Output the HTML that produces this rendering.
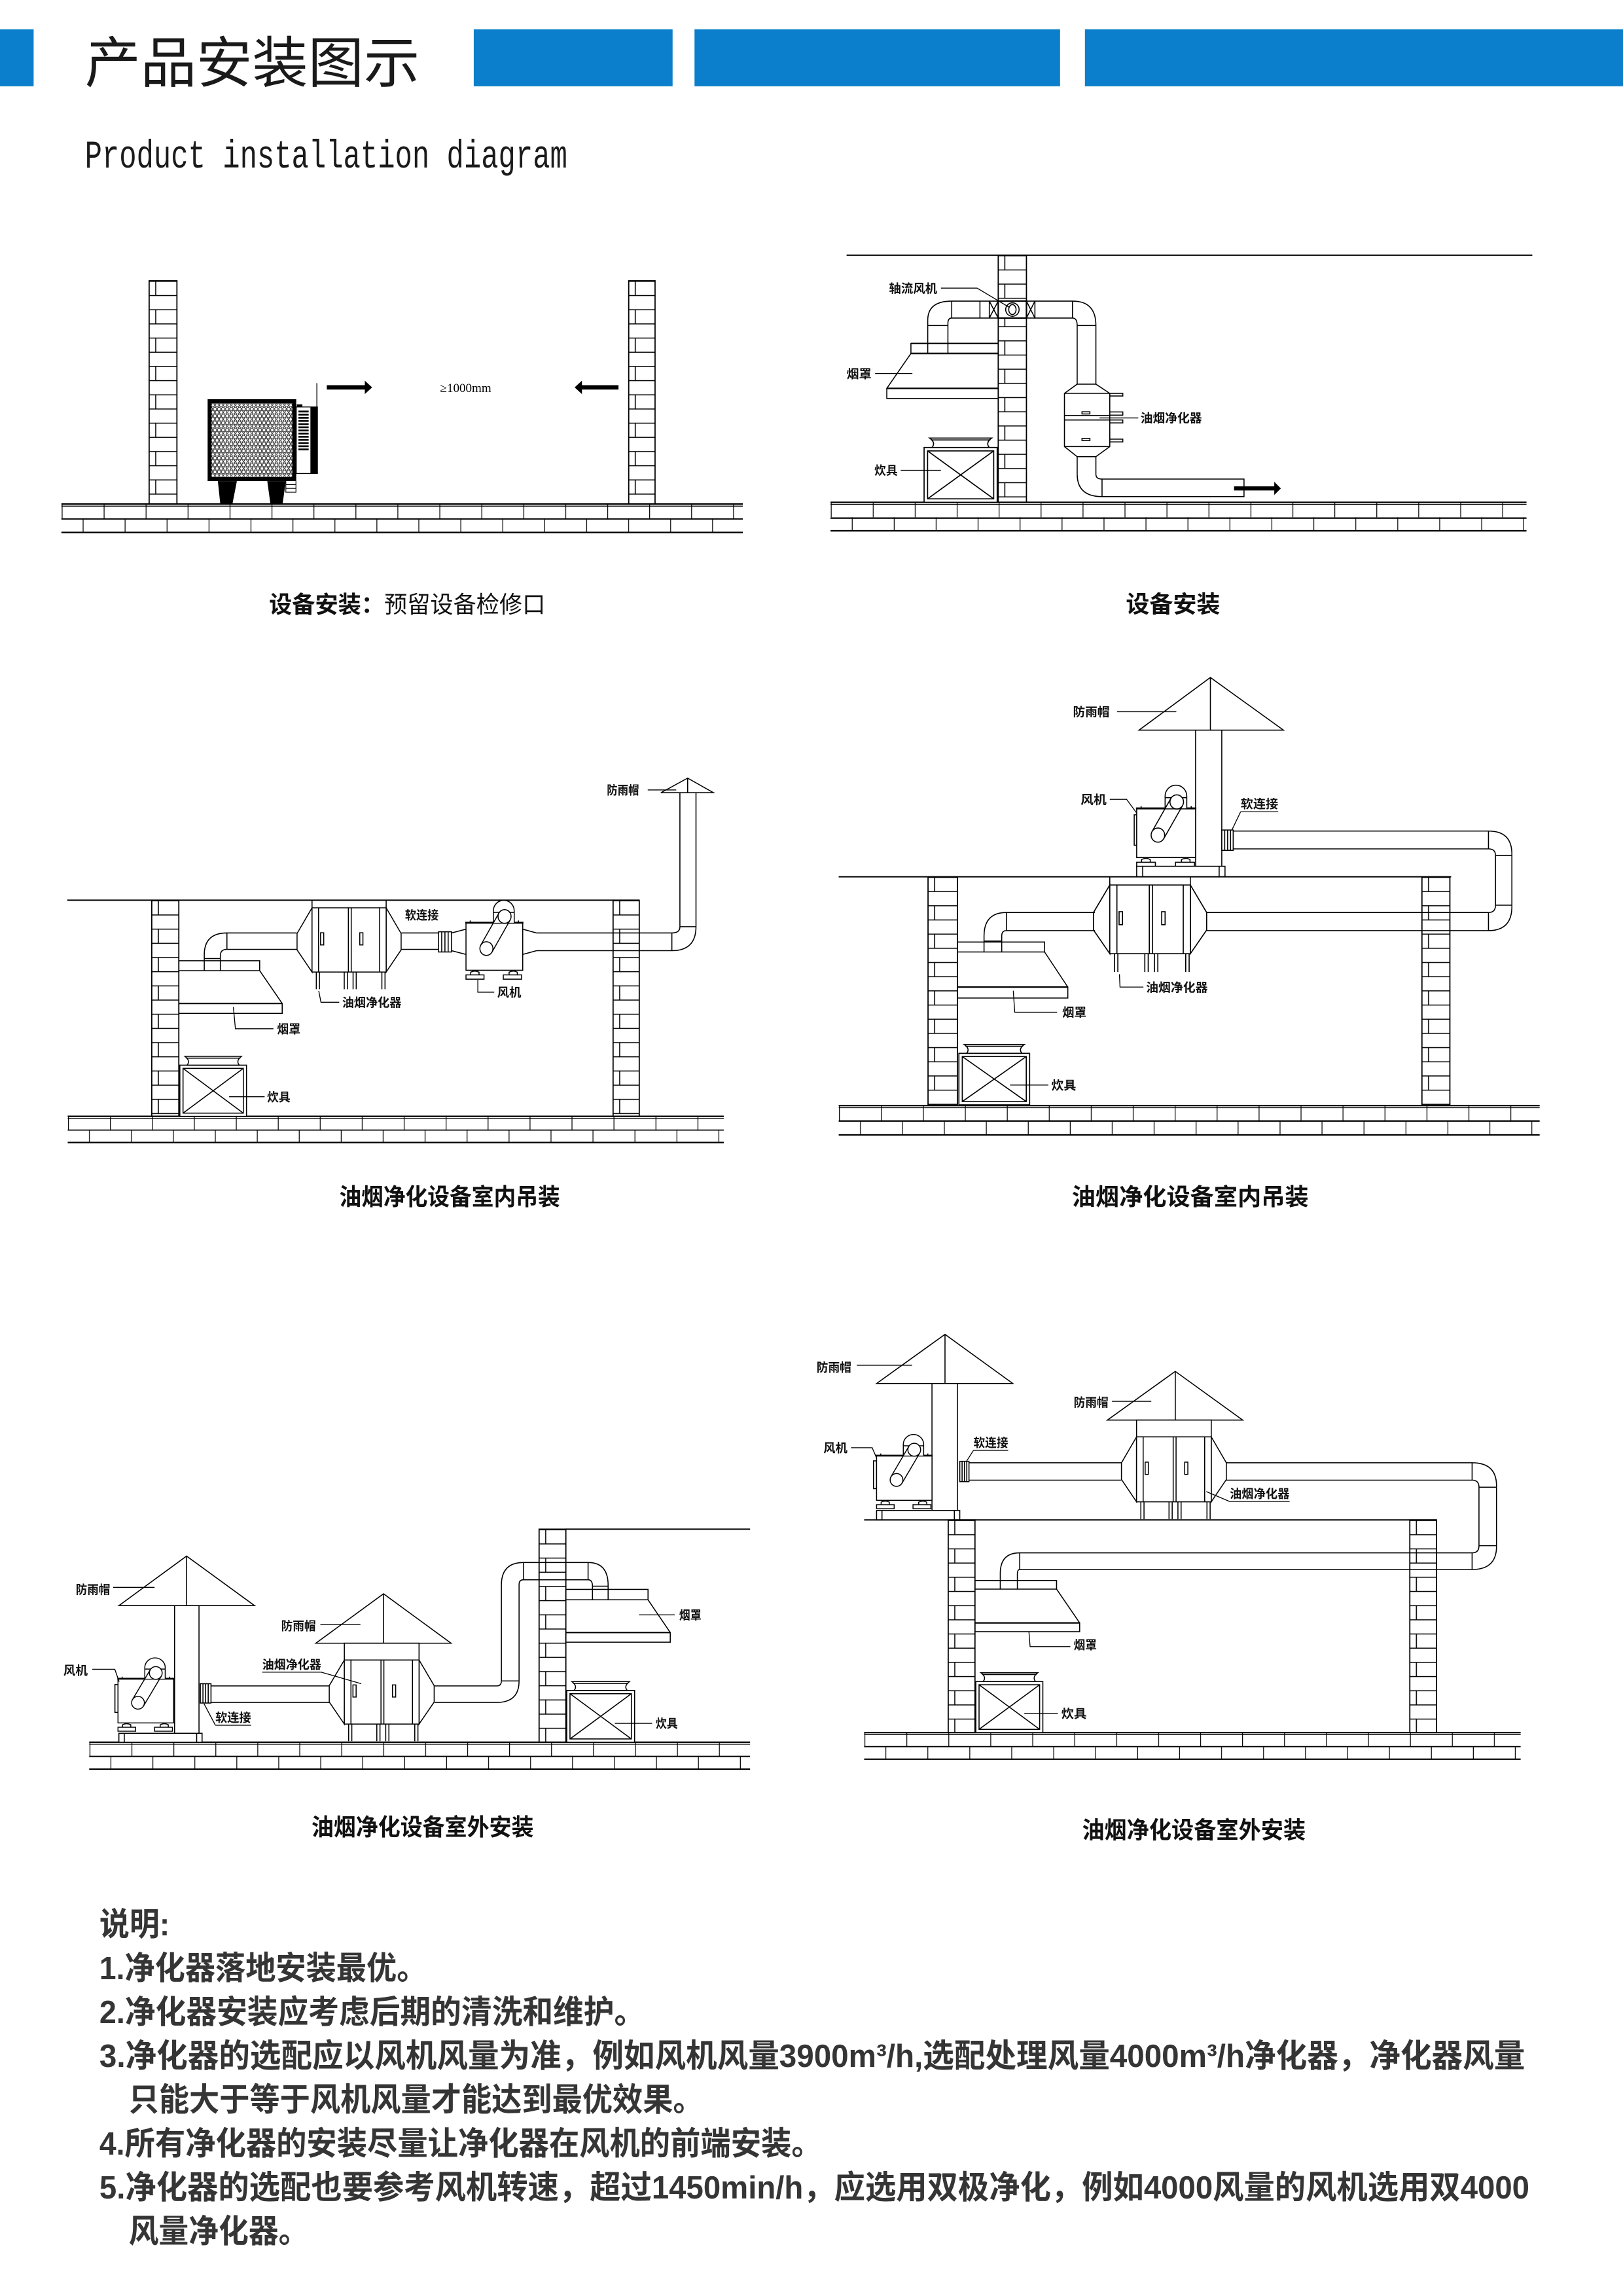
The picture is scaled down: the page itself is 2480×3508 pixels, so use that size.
<!DOCTYPE html>
<html><head><meta charset="utf-8">
<style>
html,body{margin:0;padding:0;background:#fff;}
svg{display:block;}
</style></head><body>
<svg xmlns="http://www.w3.org/2000/svg" xmlns:xlink="http://www.w3.org/1999/xlink" width="2480" height="3508" viewBox="0 0 1110 1570.1" preserveAspectRatio="none">
<defs>
 <pattern id="wb" width="40" height="19.4" patternUnits="userSpaceOnUse">
   <path d="M0,0.4H40M0,10.1H40M4.5,0.4V10.1" stroke="#000" stroke-width="0.7" fill="none"/>
 </pattern>
 <pattern id="fl" width="28.7" height="20" patternUnits="userSpaceOnUse">
   <path d="M0.5,0V10.5M14.85,10.5V20" stroke="#000" stroke-width="0.55" fill="none"/>
 </pattern>
 <pattern id="hex" width="2.8" height="4.8" patternUnits="userSpaceOnUse">
   <rect width="2.8" height="4.8" fill="#fff"/>
   <g fill="none" stroke="#000" stroke-width="0.38">
     <circle cx="1.4" cy="1.2" r="1.15"/><circle cx="0" cy="3.6" r="1.15"/><circle cx="2.8" cy="3.6" r="1.15"/>
   </g>
 </pattern>
 <pattern id="slat" width="8" height="2.16" patternUnits="userSpaceOnUse">
   <rect width="8" height="1.2" fill="#000"/>
 </pattern>
 <g id="fan" stroke="#000" stroke-width="0.7" fill="none">
   <rect x="0" y="0" width="40" height="32" fill="#fff"/>
   <path d="M-0.5,0H40.5" stroke-width="1.3"/>
   <path d="M3,0V-1.5M37,0V-1.5"/>
   <path d="M19.3,0V-8A7.35,7.1 0 0 1 34,-8V0" fill="#fff"/>
   <path d="M19.3,-7H34"/>
   <circle cx="27.2" cy="-4.2" r="4.6" fill="#fff"/>
   <circle cx="14.4" cy="17.4" r="4.6" fill="#fff"/>
   <path d="M23.24,-6.55L10.44,15.05M31.16,-1.85L18.36,19.75"/>
   <path d="M3.3,35.1V33.3Q6.25,31.8 9.2,33.3V35.1Z M0,35.1H12.7V38H0Z M30.4,35.1V33.3Q33.3,31.8 36.2,33.3V35.1Z M26.3,35.1H39.2V38H26.3Z" fill="#fff"/>
 </g>
 <g id="pur" stroke="#000" stroke-width="0.7" fill="none">
   <path d="M0,0L-10.5,18V29.5L0,45Z" fill="#fff"/>
   <path d="M52,0L62.5,18V29.5L52,45Z" fill="#fff"/>
   <rect x="0" y="0" width="52" height="45" fill="#fff"/>
   <path d="M4.6,0V45M47.4,0V45M25.5,0V45M27.5,0V45"/>
   <rect x="6" y="17.5" width="2.2" height="8.5"/>
   <rect x="33.5" y="17.5" width="2.2" height="8.5"/>
   <path d="M3,45V57M5.2,45V57M22.6,45V57M24.8,45V57M28.8,45V57M31,45V57M49,45V57M51.2,45V57"/>
 </g>
 <g id="stove" stroke="#000" stroke-width="0.7" fill="none">
   <rect x="0" y="0" width="46" height="35" fill="#fff"/>
   <rect x="2.2" y="2.2" width="41.6" height="30.6"/>
   <path d="M2.2,2.2L43.8,32.8M43.8,2.2L2.2,32.8"/>
   <path d="M3.5,-6H42.5Q38.5,-3 41,0H5Q7.5,-3 3.5,-6Z" fill="#fff"/>
   <path d="M4.3,-4.8H41.7"/>
 </g>
</defs>

<rect width="1110" height="1570.1" fill="#fff"/>

<!-- HEADER -->
<g fill="#0b7fcb">
 <rect x="0" y="20" width="23" height="39"/>
 <rect x="324" y="20" width="136" height="39"/>
 <rect x="475" y="20" width="250" height="39"/>
 <rect x="742" y="20" width="368" height="39"/>
</g>
<text x="58" y="56.3" font-family="'Liberation Sans','Noto Sans CJK SC',sans-serif" font-size="38" fill="#1a1a1a" textLength="229" lengthAdjust="spacingAndGlyphs">产品安装图示</text>
<text x="58" y="114.5" font-family="'Liberation Mono',monospace" font-size="27" fill="#1a1a1a" textLength="330" lengthAdjust="spacingAndGlyphs">Product installation diagram</text>

<!-- ================= D1 ================= -->
<g stroke="#000" stroke-width="0.7" fill="none">
 <g transform="translate(102,192)"><rect width="19" height="152.7" fill="url(#wb)" stroke="#000" stroke-width="0.8"/></g>
 <g transform="translate(430,192)"><rect width="18" height="152.7" fill="url(#wb)" stroke="#000" stroke-width="0.8"/></g>
 <g transform="translate(42,344.7)">
   <g transform="scale(1,0.97)"><rect width="466" height="20" fill="url(#fl)" stroke="none"/></g>
   <path d="M0,0H466M0,19.4H466" stroke-width="1"/>
   <path d="M0,1.4H466" stroke-width="0.6"/>
   <path d="M0,10.2H466" stroke-width="0.8"/>
 </g>
 <!-- machine -->
 <rect x="142" y="273" width="60.6" height="56" fill="#000" stroke="none"/>
 <rect x="144.7" y="275.7" width="55.2" height="50.6" fill="url(#hex)" stroke="none"/>
 <path d="M149,329H162L158.9,345H150.7Z M182.8,329H195.5L193.2,345H185Z" fill="#000" stroke="none"/>
 <rect x="202.6" y="278.3" width="14.5" height="45.5" fill="#fff" stroke-width="0.6"/>
 <rect x="212.3" y="278.3" width="4.8" height="45.5" fill="#000" stroke="none"/>
 <rect x="204.1" y="280.5" width="7" height="27.8" fill="url(#slat)" stroke="none"/>
 <rect x="203" y="276.5" width="3.8" height="1.8" fill="#000" stroke="none"/>
 <path d="M216.7,262V278.3" stroke-width="0.6"/>
 <path d="M195.5,329V336.6H202.4V329M195.5,331.4H202.4M195.5,334H202.4" stroke-width="0.5"/>
 <!-- arrows -->
 <rect x="223.5" y="263.4" width="26.5" height="3" fill="#000" stroke="none"/>
 <path d="M249.5,260.3L254.5,264.9L249.5,269.5Z" fill="#000" stroke="none"/>
 <rect x="397.5" y="263.4" width="25.5" height="3" fill="#000" stroke="none"/>
 <path d="M398,260.3L393,264.9L398,269.5Z" fill="#000" stroke="none"/>
</g>
<text x="301" y="268.2" font-family="'Liberation Serif',serif" font-size="8.5" fill="#000" textLength="35" lengthAdjust="spacingAndGlyphs">≥1000mm</text>
<text x="184" y="419" font-family="'Liberation Sans','Noto Sans CJK SC',sans-serif" font-size="16" fill="#111" textLength="189" lengthAdjust="spacingAndGlyphs"><tspan font-weight="bold">设备安装：</tspan><tspan>预留设备检修口</tspan></text>

<!-- ================= D2 ================= -->
<g stroke="#000" stroke-width="0.7" fill="none">
 <path d="M579,174.5H1048" stroke-width="0.9"/>
 <g transform="translate(682.7,174.5)"><rect width="19.3" height="169" fill="url(#wb)" stroke="#000" stroke-width="0.8"/></g>
 <g transform="translate(568,343.5)">
   <g transform="scale(1,0.975)"><rect width="476" height="20" fill="url(#fl)" stroke="none"/></g>
   <path d="M0,0H476M0,19.5H476" stroke-width="1"/>
   <path d="M0,1.4H476" stroke-width="0.6"/>
   <path d="M0,10.8H476" stroke-width="1"/>
 </g>
 <!-- top duct -->
 <rect x="650.9" y="205.9" width="82.6" height="11.6" fill="#fff" stroke="none"/>
 <path d="M650.9,205.9H733.5M650.9,217.5H733.5"/>
 <path d="M650.9,205.9V217.5M670.2,205.9V217.5M676.6,205.9V217.5M707.8,205.9V217.5M733.5,205.9V217.5"/>
 <path d="M676.6,205.9L682.7,217.5M682.7,205.9L676.6,217.5M702,205.9L707.8,217.5M707.8,205.9L702,217.5"/>
 <rect x="682.7" y="205.9" width="19.3" height="11.6" stroke-width="1"/>
 <circle cx="692.4" cy="211.7" r="4.6"/>
 <ellipse cx="692.4" cy="211.7" rx="2.5" ry="3.4"/>
 <path d="M634.5,241.7V219Q634.5,205.9 650.9,205.9"/>
 <path d="M648.3,241.7V221Q648.3,217.5 650.9,217.5"/>
 <path d="M634.5,222.6H648.3"/>
 <path d="M733.5,205.9Q749.5,205.9 749.5,222.6V262.7M733.5,217.5Q736.7,217.5 736.7,222.6V262.7"/>
 <path d="M736.7,222.6H749.5M736.7,262.7H749.5"/>
 <!-- purifier -->
 <path d="M736.7,262.7L728,269V305.4L736.7,312.3M749.5,262.7L759,269V305.4L749.5,312.3"/>
 <path d="M728,269H759M728,284.1H759M728,287.2H759M728,305.4H759"/>
 <rect x="740" y="281.6" width="5.4" height="1.5"/>
 <rect x="740" y="299.8" width="5.4" height="1.5"/>
 <rect x="759" y="269" width="8.9" height="1.8"/>
 <rect x="759" y="281.7" width="8.9" height="2.2"/>
 <rect x="759" y="287.2" width="8.9" height="2"/>
 <rect x="759" y="300.3" width="8.9" height="1.9"/>
 <path d="M736.7,312.3V324.2M749.5,312.3V324.2M736.7,312.3H749.5"/>
 <path d="M736.7,324.2Q736.7,339.6 753.7,339.6M749.5,324.2Q749.5,327.6 753.7,327.6"/>
 <rect x="753.7" y="327.6" width="97.1" height="12"/>
 <rect x="844" y="332.6" width="27.7" height="2.8" fill="#000" stroke="none"/>
 <path d="M871.5,329.5L876,334L871.5,338.5Z" fill="#000" stroke="none"/>
 <!-- hood -->
 <rect x="623" y="234.9" width="59.7" height="6.8"/>
 <path d="M623,234.9H682.7M623,241.7H682.7" stroke-width="1.1"/>
 <path d="M623,241.7L606.5,265.6"/>
 <rect x="606.5" y="265.6" width="76.2" height="6.9"/>
 <path d="M606.5,265.6H682.7" stroke-width="1"/>
 <use href="#stove" xlink:href="#stove" transform="translate(632,306) scale(1.087,1.071)"/>
 <!-- leaders -->
 <path d="M643.5,197H668.2L690,210M598.5,255.4H624M752,285.8H778.5M616,321.6H643.5" stroke-width="0.6"/>
</g>
<g font-family="'Liberation Sans','Noto Sans CJK SC',sans-serif" font-weight="bold" font-size="8.3" fill="#111">
 <text x="608" y="200.2" textLength="33" lengthAdjust="spacingAndGlyphs">轴流风机</text>
 <text x="579" y="258.6" textLength="17" lengthAdjust="spacingAndGlyphs">烟罩</text>
 <text x="780" y="289" textLength="42" lengthAdjust="spacingAndGlyphs">油烟净化器</text>
 <text x="598" y="324.8" textLength="16" lengthAdjust="spacingAndGlyphs">炊具</text>
</g>
<text x="770" y="418.8" font-family="'Liberation Sans','Noto Sans CJK SC',sans-serif" font-weight="bold" font-size="16" fill="#111" textLength="64.5" lengthAdjust="spacingAndGlyphs">设备安装</text>

<!-- ================= D3 ================= -->
<g stroke="#000" stroke-width="0.7" fill="none">
 <path d="M46,615.6H437" stroke-width="0.9"/>
 <g transform="translate(103.8,615.6)"><rect width="18.5" height="147.8" fill="url(#wb)" stroke="#000" stroke-width="0.8"/></g>
 <g transform="translate(419.3,615.6)"><rect width="17.9" height="147.8" fill="url(#wb)" stroke="#000" stroke-width="0.8"/></g>
 <g transform="translate(46.3,763.4)">
   <g transform="scale(1,0.895)"><rect width="448.7" height="20" fill="url(#fl)" stroke="none"/></g>
   <path d="M0,0H448.7M0,17.9H448.7" stroke-width="1"/>
   <path d="M0,1.4H448.7" stroke-width="0.6"/>
   <path d="M0,9.4H448.7" stroke-width="0.8"/>
 </g>
 <!-- rain cap & stack -->
 <path d="M452,542.1L470.3,532.1L488,542.1Z M470.3,532.1V542.1"/>
 <path d="M465,542.1V633.7M476,542.1V633.7M465,633.7H476"/>
 <path d="M476,633.7Q476,650.1 459.5,650.1M465,633.7Q465,638 459.5,638M459.5,638V650.1"/>
 <path d="M367,638H459.5M367,650.1H459.5"/>
 <!-- fan -->
 <path d="M308.8,638L318.7,635.4M308.8,650.1L318.7,652.7M357.5,635.4L367,638M357.5,652.7L367,650.1"/>
 <use href="#fan" xlink:href="#fan" transform="translate(318.7,631) scale(0.97,1.016)"/>
 <rect x="299.9" y="637.2" width="8.9" height="13.8" fill="#fff"/>
 <path d="M302.1,637.2V651M304.3,637.2V651M306.5,637.2V651"/>
 <path d="M274.5,638H299.9M274.5,649.2H299.9"/>
 <!-- purifier -->
 <path d="M213.4,615.6V620.8M264.1,615.6V620.8"/>
 <use href="#pur" xlink:href="#pur" transform="translate(213.4,620.8) scale(0.975,0.976)"/>
 <!-- hood duct -->
 <path d="M202.9,638H155.2Q139.7,638 139.7,653V663.8M202.9,649.2H155.2Q150.7,649.2 150.7,653.5V663.8M155.2,638V649.2M139.7,655.5H150.7"/>
 <rect x="122.3" y="657" width="55.3" height="6.8"/>
 <path d="M177.6,663.8L193,686.2"/>
 <rect x="122.3" y="686.2" width="70.7" height="6.8"/>
 <path d="M122.3,686.2H193" stroke-width="1"/>
 <use href="#stove" xlink:href="#stove" transform="translate(123,728.4) scale(0.991,1)"/>
 <!-- leaders -->
 <path d="M443,540.2H462.5M326.8,670V678.5H338M218,677.6L219.5,685.4H232M159.6,688.6L161,703.5H187M156.7,750H181" stroke-width="0.6"/>
</g>
<g font-family="'Liberation Sans','Noto Sans CJK SC',sans-serif" font-weight="bold" font-size="8.3" fill="#111">
 <text x="415" y="543.4" textLength="22" lengthAdjust="spacingAndGlyphs">防雨帽</text>
 <text x="277" y="628.8" textLength="23" lengthAdjust="spacingAndGlyphs">软连接</text>
 <text x="340" y="681.7" textLength="16.5" lengthAdjust="spacingAndGlyphs">风机</text>
 <text x="234" y="688.6" textLength="40.5" lengthAdjust="spacingAndGlyphs">油烟净化器</text>
 <text x="189.5" y="706.7" textLength="16" lengthAdjust="spacingAndGlyphs">烟罩</text>
 <text x="182.6" y="753.2" textLength="16" lengthAdjust="spacingAndGlyphs">炊具</text>
</g>
<text x="232" y="824" font-family="'Liberation Sans','Noto Sans CJK SC',sans-serif" font-weight="bold" font-size="16" fill="#111" textLength="151" lengthAdjust="spacingAndGlyphs">油烟净化设备室内吊装</text>

<!-- ================= D4 ================= -->
<g stroke="#000" stroke-width="0.7" fill="none">
 <path d="M779,499.3L827.8,463.3L877.8,499.3Z M827.8,463.3V499.3"/>
 <path d="M817.7,499.3V592.7M835.6,499.3V592.7"/>
 <rect x="775.7" y="557.2" width="1.8" height="20.8"/>
 <use href="#fan" xlink:href="#fan" transform="translate(777.4,552.8) scale(1.0075,1.05)"/>
 <rect x="777.4" y="592.4" width="60.4" height="7.2" fill="#fff"/>
 <path d="M781.5,592.4V599.6M833.8,592.4V599.6"/>
 <rect x="835.6" y="567.6" width="7.8" height="13.9" fill="#fff"/>
 <path d="M837.6,567.6V581.5M839.6,567.6V581.5M841.6,567.6V581.5"/>
 <path d="M843.4,568.3H1018M843.4,580.5H1018M1018,568.3V580.5"/>
 <path d="M1018,568.3Q1034,568.3 1034,584V620Q1034,636.4 1018,636.4"/>
 <path d="M1018,580.5Q1022.8,580.5 1022.8,585V619Q1022.8,624 1018,624"/>
 <path d="M1022.8,585H1034M1022.8,619H1034"/>
 <path d="M825.3,624H1018M825.3,636.4H1018M1018,624V636.4"/>
 <path d="M573.6,599.6H992.5" stroke-width="0.9"/>
 <g transform="translate(634.7,599.6)"><rect width="20.1" height="156.4" fill="url(#wb)" stroke="#000" stroke-width="0.8"/></g>
 <g transform="translate(972.5,599.6)"><rect width="19.1" height="156.4" fill="url(#wb)" stroke="#000" stroke-width="0.8"/></g>
 <g transform="translate(573.6,756)">
   <g transform="scale(1,1.005)"><rect width="479.4" height="20" fill="url(#fl)" stroke="none"/></g>
   <path d="M0,0H479.4M0,20.1H479.4" stroke-width="1"/>
   <path d="M0,1.5H479.4" stroke-width="0.6"/>
   <path d="M0,10.6H479.4" stroke-width="1"/>
 </g>
 <path d="M759,599.6V605.2M814.1,599.6V605.2"/>
 <use href="#pur" xlink:href="#pur" transform="translate(759,605.2) scale(1.06,1.044)"/>
 <path d="M748.8,624H688.3Q673,624 673,640V651M748.8,636.4H688.3Q685.1,636.4 685.1,640V651M688.3,624V636.4M673,643.5H685.1"/>
 <rect x="654.8" y="644.2" width="59.6" height="6.8"/>
 <path d="M714.4,651L730.3,675"/>
 <rect x="654.8" y="675" width="75.5" height="7.5"/>
 <path d="M654.8,675H730.3" stroke-width="1"/>
 <use href="#stove" xlink:href="#stove" transform="translate(655.8,720.3) scale(1.052,1.006)"/>
 <path d="M764,486.7H804.5M759,546.6H770.5L777.4,556M848.5,555.1H874.2M848.5,555.1L842.5,567.6M765.6,666.2L766,675H782M693,677.5L694,692.2H723M690.8,742H717" stroke-width="0.6"/>
</g>
<g font-family="'Liberation Sans','Noto Sans CJK SC',sans-serif" font-weight="bold" font-size="8.3" fill="#111">
 <text x="733.8" y="489.9" textLength="25" lengthAdjust="spacingAndGlyphs">防雨帽</text>
 <text x="739" y="549.8" textLength="17.8" lengthAdjust="spacingAndGlyphs">风机</text>
 <text x="848.5" y="552.8" textLength="25.7" lengthAdjust="spacingAndGlyphs">软连接</text>
 <text x="783.8" y="678.2" textLength="42.2" lengthAdjust="spacingAndGlyphs">油烟净化器</text>
 <text x="726.5" y="695.4" textLength="16.5" lengthAdjust="spacingAndGlyphs">烟罩</text>
 <text x="719" y="745.2" textLength="17" lengthAdjust="spacingAndGlyphs">炊具</text>
</g>
<text x="733" y="824" font-family="'Liberation Sans','Noto Sans CJK SC',sans-serif" font-weight="bold" font-size="16" fill="#111" textLength="162" lengthAdjust="spacingAndGlyphs">油烟净化设备室内吊装</text>

<!-- ================= D5 ================= -->
<g stroke="#000" stroke-width="0.7" fill="none">
 <path d="M387,1045.7H513" stroke-width="0.9"/>
 <g transform="translate(368.7,1045.7)"><rect width="18.3" height="145.7" fill="url(#wb)" stroke="#000" stroke-width="0.8"/></g>
 <g transform="translate(61,1191.4)">
   <g transform="scale(1,0.92)"><rect width="452" height="20" fill="url(#fl)" stroke="none"/></g>
   <path d="M0,0H452M0,18.4H452" stroke-width="1"/>
   <path d="M0,1.4H452" stroke-width="0.6"/>
   <path d="M0,9.7H452" stroke-width="0.8"/>
 </g>
 <path d="M81.3,1098L127.6,1064.1L174.1,1098Z M127.6,1064.1V1098"/>
 <path d="M119.4,1098V1185.3M136.1,1098V1185.3"/>
 <rect x="81.3" y="1185.3" width="56.9" height="6.1" fill="#fff"/>
 <path d="M85,1185.3V1191.4M134.5,1185.3V1191.4"/>
 <rect x="78.6" y="1152" width="2.1" height="19"/>
 <use href="#fan" xlink:href="#fan" transform="translate(80.7,1148) scale(0.95,0.944)"/>
 <rect x="137" y="1151.4" width="7.3" height="13.2" fill="#fff"/>
 <path d="M138.8,1151.4V1164.6M140.6,1151.4V1164.6M142.4,1151.4V1164.6"/>
 <path d="M144.3,1152.9H225.2M144.3,1164.2H225.2"/>
 <path d="M216,1123.7L262.3,1089.9L308.5,1123.7Z M262.3,1089.9V1123.7"/>
 <rect x="235.5" y="1123.7" width="51.1" height="11.5" fill="#fff"/>
 <use href="#pur" xlink:href="#pur" transform="translate(235.5,1135.2) scale(0.983,0.973)"/>
 <path d="M297.3,1152.9H339.8Q342.9,1152.9 342.9,1149.5M297.3,1164.2H339.8Q355,1164.2 355,1149.5M342.9,1149.5H355"/>
 <path d="M342.9,1149.5V1084Q342.9,1068.5 358.1,1068.5M355,1149.5V1083.5Q355,1080.3 358.1,1080.3"/>
 <path d="M358.1,1068.5H402.2M358.1,1080.3H402.2M358.1,1068.5V1080.3M402.2,1068.5V1080.3"/>
 <path d="M402.2,1068.5Q415.9,1068.5 415.9,1084V1094.3M402.2,1080.3Q405.2,1080.3 405.2,1084.7V1094.3M405.2,1084.7H415.9"/>
 <rect x="387" y="1086.9" width="56.2" height="7.1"/>
 <path d="M443.2,1094L458.4,1116.4"/>
 <rect x="387" y="1116.4" width="71.4" height="6.6"/>
 <path d="M387,1116.4H458.4" stroke-width="1"/>
 <use href="#stove" xlink:href="#stove" transform="translate(387.6,1156) scale(1.009,1.011)"/>
 <path d="M77.4,1085.5H105.7M63.1,1141.5H78.5L81.5,1150M147.3,1179.8H171.7M139.5,1165L147.3,1179.8M219.1,1110.8H246.5M179.3,1143.5H219.7L247.1,1151.4M437,1104.3H461.5M420.5,1178.5H446" stroke-width="0.6"/>
</g>
<g font-family="'Liberation Sans','Noto Sans CJK SC',sans-serif" font-weight="bold" font-size="8.3" fill="#111">
 <text x="51.8" y="1090.1" textLength="23.5" lengthAdjust="spacingAndGlyphs">防雨帽</text>
 <text x="43.3" y="1145.3" textLength="16.7" lengthAdjust="spacingAndGlyphs">风机</text>
 <text x="147.3" y="1177.5" textLength="24.4" lengthAdjust="spacingAndGlyphs">软连接</text>
 <text x="192.3" y="1114.9" textLength="23.7" lengthAdjust="spacingAndGlyphs">防雨帽</text>
 <text x="179.3" y="1141.3" textLength="40.4" lengthAdjust="spacingAndGlyphs">油烟净化器</text>
 <text x="464.5" y="1107.5" textLength="15.2" lengthAdjust="spacingAndGlyphs">烟罩</text>
 <text x="448.4" y="1181.7" textLength="15.2" lengthAdjust="spacingAndGlyphs">炊具</text>
</g>
<text x="213" y="1255" font-family="'Liberation Sans','Noto Sans CJK SC',sans-serif" font-weight="bold" font-size="16" fill="#111" textLength="152" lengthAdjust="spacingAndGlyphs">油烟净化设备室外安装</text>

<!-- ================= D6 ================= -->
<g stroke="#000" stroke-width="0.7" fill="none">
 <path d="M599.5,946.1L646.3,912.5L692.7,946.1Z M646.3,912.5V946.1"/>
 <path d="M637.4,946.1V1032.9M654.8,946.1V1032.9"/>
 <rect x="599.5" y="1032.9" width="56.9" height="6.5" fill="#fff"/>
 <path d="M603.2,1032.9V1039.4M652.7,1032.9V1039.4"/>
 <rect x="597.4" y="999" width="2.1" height="19"/>
 <use href="#fan" xlink:href="#fan" transform="translate(599.5,995.4) scale(0.9475,0.956)"/>
 <rect x="656.4" y="999.3" width="6.3" height="13.9" fill="#fff"/>
 <path d="M658,999.3V1013.2M659.6,999.3V1013.2M661.2,999.3V1013.2"/>
 <path d="M662.7,1000.3H766.9M662.7,1012.2H766.9"/>
 <path d="M757.4,971.1L803.8,937.8L849.9,971.1Z M803.8,937.8V971.1"/>
 <rect x="777.3" y="971.1" width="51.1" height="11.5" fill="#fff"/>
 <use href="#pur" xlink:href="#pur" transform="translate(777.3,982.6) scale(0.983,0.987)"/>
 <path d="M838.5,1000.3H1006.8M838.5,1012.2H1006.8M1006.8,1000.3V1012.2"/>
 <path d="M1006.8,1000.3Q1023.5,1000.3 1023.5,1016V1057.5Q1023.5,1073.3 1006.8,1073.3"/>
 <path d="M1006.8,1012.2Q1011.5,1012.2 1011.5,1017V1057Q1011.5,1061.9 1006.8,1061.9"/>
 <path d="M1011.5,1017H1023.5M1011.5,1057H1023.5"/>
 <path d="M697.4,1061.9H1006.8M697.4,1073.3H1006.8M697.4,1061.9V1073.3M1006.8,1061.9V1073.3"/>
 <path d="M697.4,1061.9Q684.1,1061.9 684.1,1076V1086.7M697.4,1073.3Q695.8,1073.3 695.8,1076.5V1086.7"/>
 <path d="M591,1039.4H982.5" stroke-width="0.9"/>
 <g transform="translate(648.5,1039.4)"><rect width="18.3" height="145.4" fill="url(#wb)" stroke="#000" stroke-width="0.8"/></g>
 <g transform="translate(964.2,1039.4)"><rect width="18.3" height="145.4" fill="url(#wb)" stroke="#000" stroke-width="0.8"/></g>
 <g transform="translate(591,1184.8)">
   <g transform="scale(1,0.91)"><rect width="449" height="20" fill="url(#fl)" stroke="none"/></g>
   <path d="M0,0H449M0,18.2H449" stroke-width="1"/>
   <path d="M0,1.4H449" stroke-width="0.6"/>
   <path d="M0,9.6H449" stroke-width="0.8"/>
 </g>
 <rect x="666.8" y="1080.8" width="55.8" height="5.9"/>
 <path d="M722.6,1086.7L738.4,1109.8"/>
 <rect x="666.8" y="1109.8" width="71.6" height="6"/>
 <path d="M666.8,1109.8H738.4" stroke-width="1"/>
 <use href="#stove" xlink:href="#stove" transform="translate(667.4,1149.9) scale(0.996,0.997)"/>
 <path d="M586,933.6H623.8M582,990H596.5L599.5,997M665.8,991.8H689.5M665.8,991.8L661,999.3M760.5,958.3H787.4M841,1026.8H882M825,1020L841,1026.8M703.7,1115.8L704.5,1126H732M700.5,1171.6H723.5" stroke-width="0.6"/>
</g>
<g font-family="'Liberation Sans','Noto Sans CJK SC',sans-serif" font-weight="bold" font-size="8.3" fill="#111">
 <text x="558.5" y="938.2" textLength="23.7" lengthAdjust="spacingAndGlyphs">防雨帽</text>
 <text x="563.2" y="993.2" textLength="16.4" lengthAdjust="spacingAndGlyphs">风机</text>
 <text x="665.8" y="989.5" textLength="23.7" lengthAdjust="spacingAndGlyphs">软连接</text>
 <text x="734.3" y="962.1" textLength="23.7" lengthAdjust="spacingAndGlyphs">防雨帽</text>
 <text x="841" y="1024.6" textLength="41" lengthAdjust="spacingAndGlyphs">油烟净化器</text>
 <text x="734.3" y="1127.8" textLength="15.8" lengthAdjust="spacingAndGlyphs">烟罩</text>
 <text x="725.8" y="1174.8" textLength="17.4" lengthAdjust="spacingAndGlyphs">炊具</text>
</g>
<text x="740" y="1257" font-family="'Liberation Sans','Noto Sans CJK SC',sans-serif" font-weight="bold" font-size="16" fill="#111" textLength="153" lengthAdjust="spacingAndGlyphs">油烟净化设备室外安装</text>

<!-- ================= NOTES ================= -->
<g font-family="'Liberation Sans','Noto Sans CJK SC',sans-serif" font-weight="bold" font-size="22" fill="#353535">
 <text x="68" y="1323.4" textLength="48" lengthAdjust="spacingAndGlyphs">说明:</text>
 <text x="68" y="1353.4" textLength="224" lengthAdjust="spacingAndGlyphs">1.净化器落地安装最优。</text>
 <text x="68" y="1383.4" textLength="373" lengthAdjust="spacingAndGlyphs">2.净化器安装应考虑后期的清洗和维护。</text>
 <text x="68" y="1413.4" textLength="975" lengthAdjust="spacingAndGlyphs">3.净化器的选配应以风机风量为准，例如风机风量3900m³/h,选配处理风量4000m³/h净化器，净化器风量</text>
 <text x="88" y="1443.4" textLength="393" lengthAdjust="spacingAndGlyphs">只能大于等于风机风量才能达到最优效果。</text>
 <text x="68" y="1473.4" textLength="494" lengthAdjust="spacingAndGlyphs">4.所有净化器的安装尽量让净化器在风机的前端安装。</text>
 <text x="68" y="1503.4" textLength="978" lengthAdjust="spacingAndGlyphs">5.净化器的选配也要参考风机转速，超过1450min/h，应选用双极净化，例如4000风量的风机选用双4000</text>
 <text x="88" y="1533.4" textLength="123" lengthAdjust="spacingAndGlyphs">风量净化器。</text>
</g>
</svg>
</body></html>
